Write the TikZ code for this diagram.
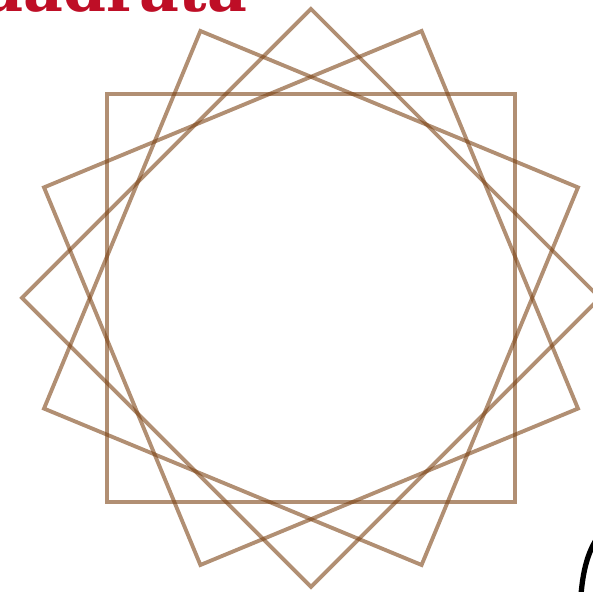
\documentclass[tikz,border=0pt]{standalone}
\usepackage{fontspec}
\usetikzlibrary{calc}
\newfontfamily\slabfont{DejaVu Serif}
\definecolor{squarebrown}{RGB}{125,68,22}
\definecolor{titlered}{RGB}{190,14,38}

\begin{document}
\begin{tikzpicture}[x=0.01cm, y=-0.01cm,
    sq/.style={draw=squarebrown, draw opacity=0.6, line width=1.1pt, line join=miter}]
    % Fix the page size and cut what falls outside
    \useasboundingbox (0,0) rectangle (593,592);
    \clip (0,0) rectangle (593,592);

    % Title, only its lower edge shows
    \node[anchor=base east, inner sep=0pt, text=titlered,
          font=\slabfont\bfseries\fontsize{17.5}{20}\selectfont] (title) at (248,12) {Quadrata};

    % Four rotated squares round one centre
    \coordinate (c) at (311,298);
    \foreach \a in {0,22.5,45,67.5}
      \draw[sq] ($(c)+(\a+45:289)$) -- ($(c)+(\a+135:289)$) -- ($(c)+(\a+225:289)$) -- ($(c)+(\a+315:289)$) -- cycle;

    % Black stroke in the corner
    \coordinate (arcstart) at (581,595);
    \coordinate (arcend) at (596,540);
    \draw[line width=1.5pt] (arcstart) .. controls (583,570) and (588,553) .. (arcend);
\end{tikzpicture}
\end{document}
